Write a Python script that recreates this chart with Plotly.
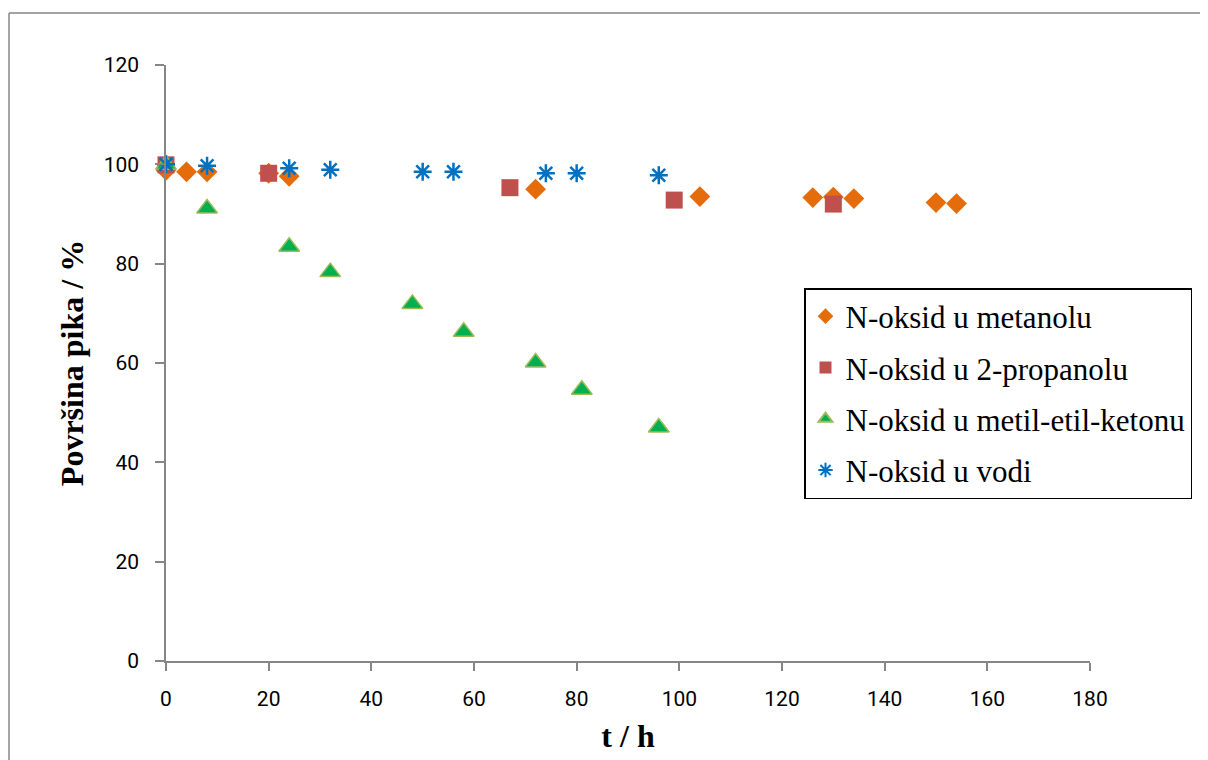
import plotly.graph_objects as go

# Data
met_t = [0, 4, 8, 20, 24, 72, 104, 126, 130, 134, 150, 154]
met_v = [98.8, 98.5, 98.5, 98.2, 97.6, 95.0, 93.5, 93.3, 93.4, 93.1, 92.3, 92.1]

prop_t = [0, 20, 67, 99, 130]
prop_v = [99.9, 98.2, 95.3, 92.8, 92.0]

mek_t = [0, 8, 24, 32, 48, 58, 72, 81, 96]
mek_v = [99.9, 91.1, 83.4, 78.3, 71.9, 66.3, 60.1, 54.6, 47.0]

voda_t = [0, 8, 24, 32, 50, 56, 74, 80, 96]
voda_v = [100.0, 99.7, 99.2, 98.9, 98.5, 98.5, 98.2, 98.2, 97.8]

names = ["N-oksid u metanolu", "N-oksid u 2-propanolu",
         "N-oksid u metil-etil-ketonu", "N-oksid u vodi"]

x_ticks = [0, 20, 40, 60, 80, 100, 120, 140, 160, 180]
y_ticks = [0, 20, 40, 60, 80, 100, 120]

fig = go.Figure()
fig.add_trace(go.Scatter(x=met_t, y=met_v, mode="markers", name=names[0],
                         legendgroup="a",
                         marker=dict(symbol="diamond", size=16, color="#E46C0A",
                                     line=dict(width=0))))
fig.add_trace(go.Scatter(x=prop_t, y=prop_v, mode="markers", name=names[1],
                         legendgroup="b",
                         marker=dict(symbol="square", size=17, color="#C0504D",
                                     line=dict(width=0))))
fig.add_trace(go.Scatter(x=mek_t, y=mek_v, mode="markers", name=names[2],
                         legendgroup="c",
                         marker=dict(symbol="triangle-up", size=18, color="#00B050",
                                     line=dict(width=1.5, color="#9BBB59"))))
fig.add_trace(go.Scatter(x=voda_t, y=voda_v, mode="markers", name=names[3],
                         legendgroup="d",
                         marker=dict(symbol="asterisk-open", size=15, color="#0070C0",
                                     line=dict(width=2.5, color="#0070C0"))))
for tr in fig.data:
    tr.cliponaxis = False

# page pixel positions of the plot area (page body has an 8px margin)
OFF = 8
L, R, T, B = 166, 1090, 65, 661
W, H = 1208, 760
pw, ph = R - L, B - T

def px_x(p):
    return (p - L) / pw

def px_y(p):
    return (B - p) / ph

fig.update_layout(
    width=W, height=H,
    margin=dict(l=L - OFF, r=W - R + OFF, t=T - OFF, b=H - B + OFF, pad=0),
    paper_bgcolor="white", plot_bgcolor="white",
    font=dict(family="Roboto, Arial", size=21, color="black"),
    showlegend=True,
    legend=dict(
        x=px_x(804), y=px_y(288), xanchor="left", yanchor="top",
        bordercolor="black", borderwidth=1.5, bgcolor="white",
        font=dict(family="Liberation Serif, Times New Roman, serif", size=31, color="black"),
        tracegroupgap=8, itemsizing="constant",
    ),
    xaxis=dict(
        range=[0, 180], tickvals=x_ticks, ticktext=[str(v) for v in x_ticks],
        showgrid=False, zeroline=False, showline=True, linecolor="#868686", linewidth=1.5,
        ticks="outside", ticklen=8, tickcolor="#868686", tickwidth=1.5,
        ticklabelstandoff=10,
        title=dict(text="<b>t / h</b>", standoff=15,
                   font=dict(family="Liberation Serif, Times New Roman, serif", size=32)),
    ),
    yaxis=dict(
        range=[0, 120], tickvals=y_ticks, ticktext=[str(v) for v in y_ticks],
        showgrid=False, zeroline=False, showline=True, linecolor="#868686", linewidth=1.5,
        ticks="outside", ticklen=9, tickcolor="#868686", tickwidth=1.5,
        ticklabelstandoff=12,
        title=dict(text="<b>Površina pika / %</b>", standoff=10,
                   font=dict(family="Liberation Serif, Times New Roman, serif", size=32)),
    ),
    shapes=[
        dict(type="line", xref="paper", yref="paper",
             x0=px_x(9), x1=px_x(9), y0=px_y(13), y1=px_y(800),
             line=dict(color="#868686", width=1.5)),
        dict(type="line", xref="paper", yref="paper",
             x0=px_x(9), x1=px_x(1250), y0=px_y(13), y1=px_y(13),
             line=dict(color="#868686", width=1.5)),
    ],
)

fig.write_html("out.html")
